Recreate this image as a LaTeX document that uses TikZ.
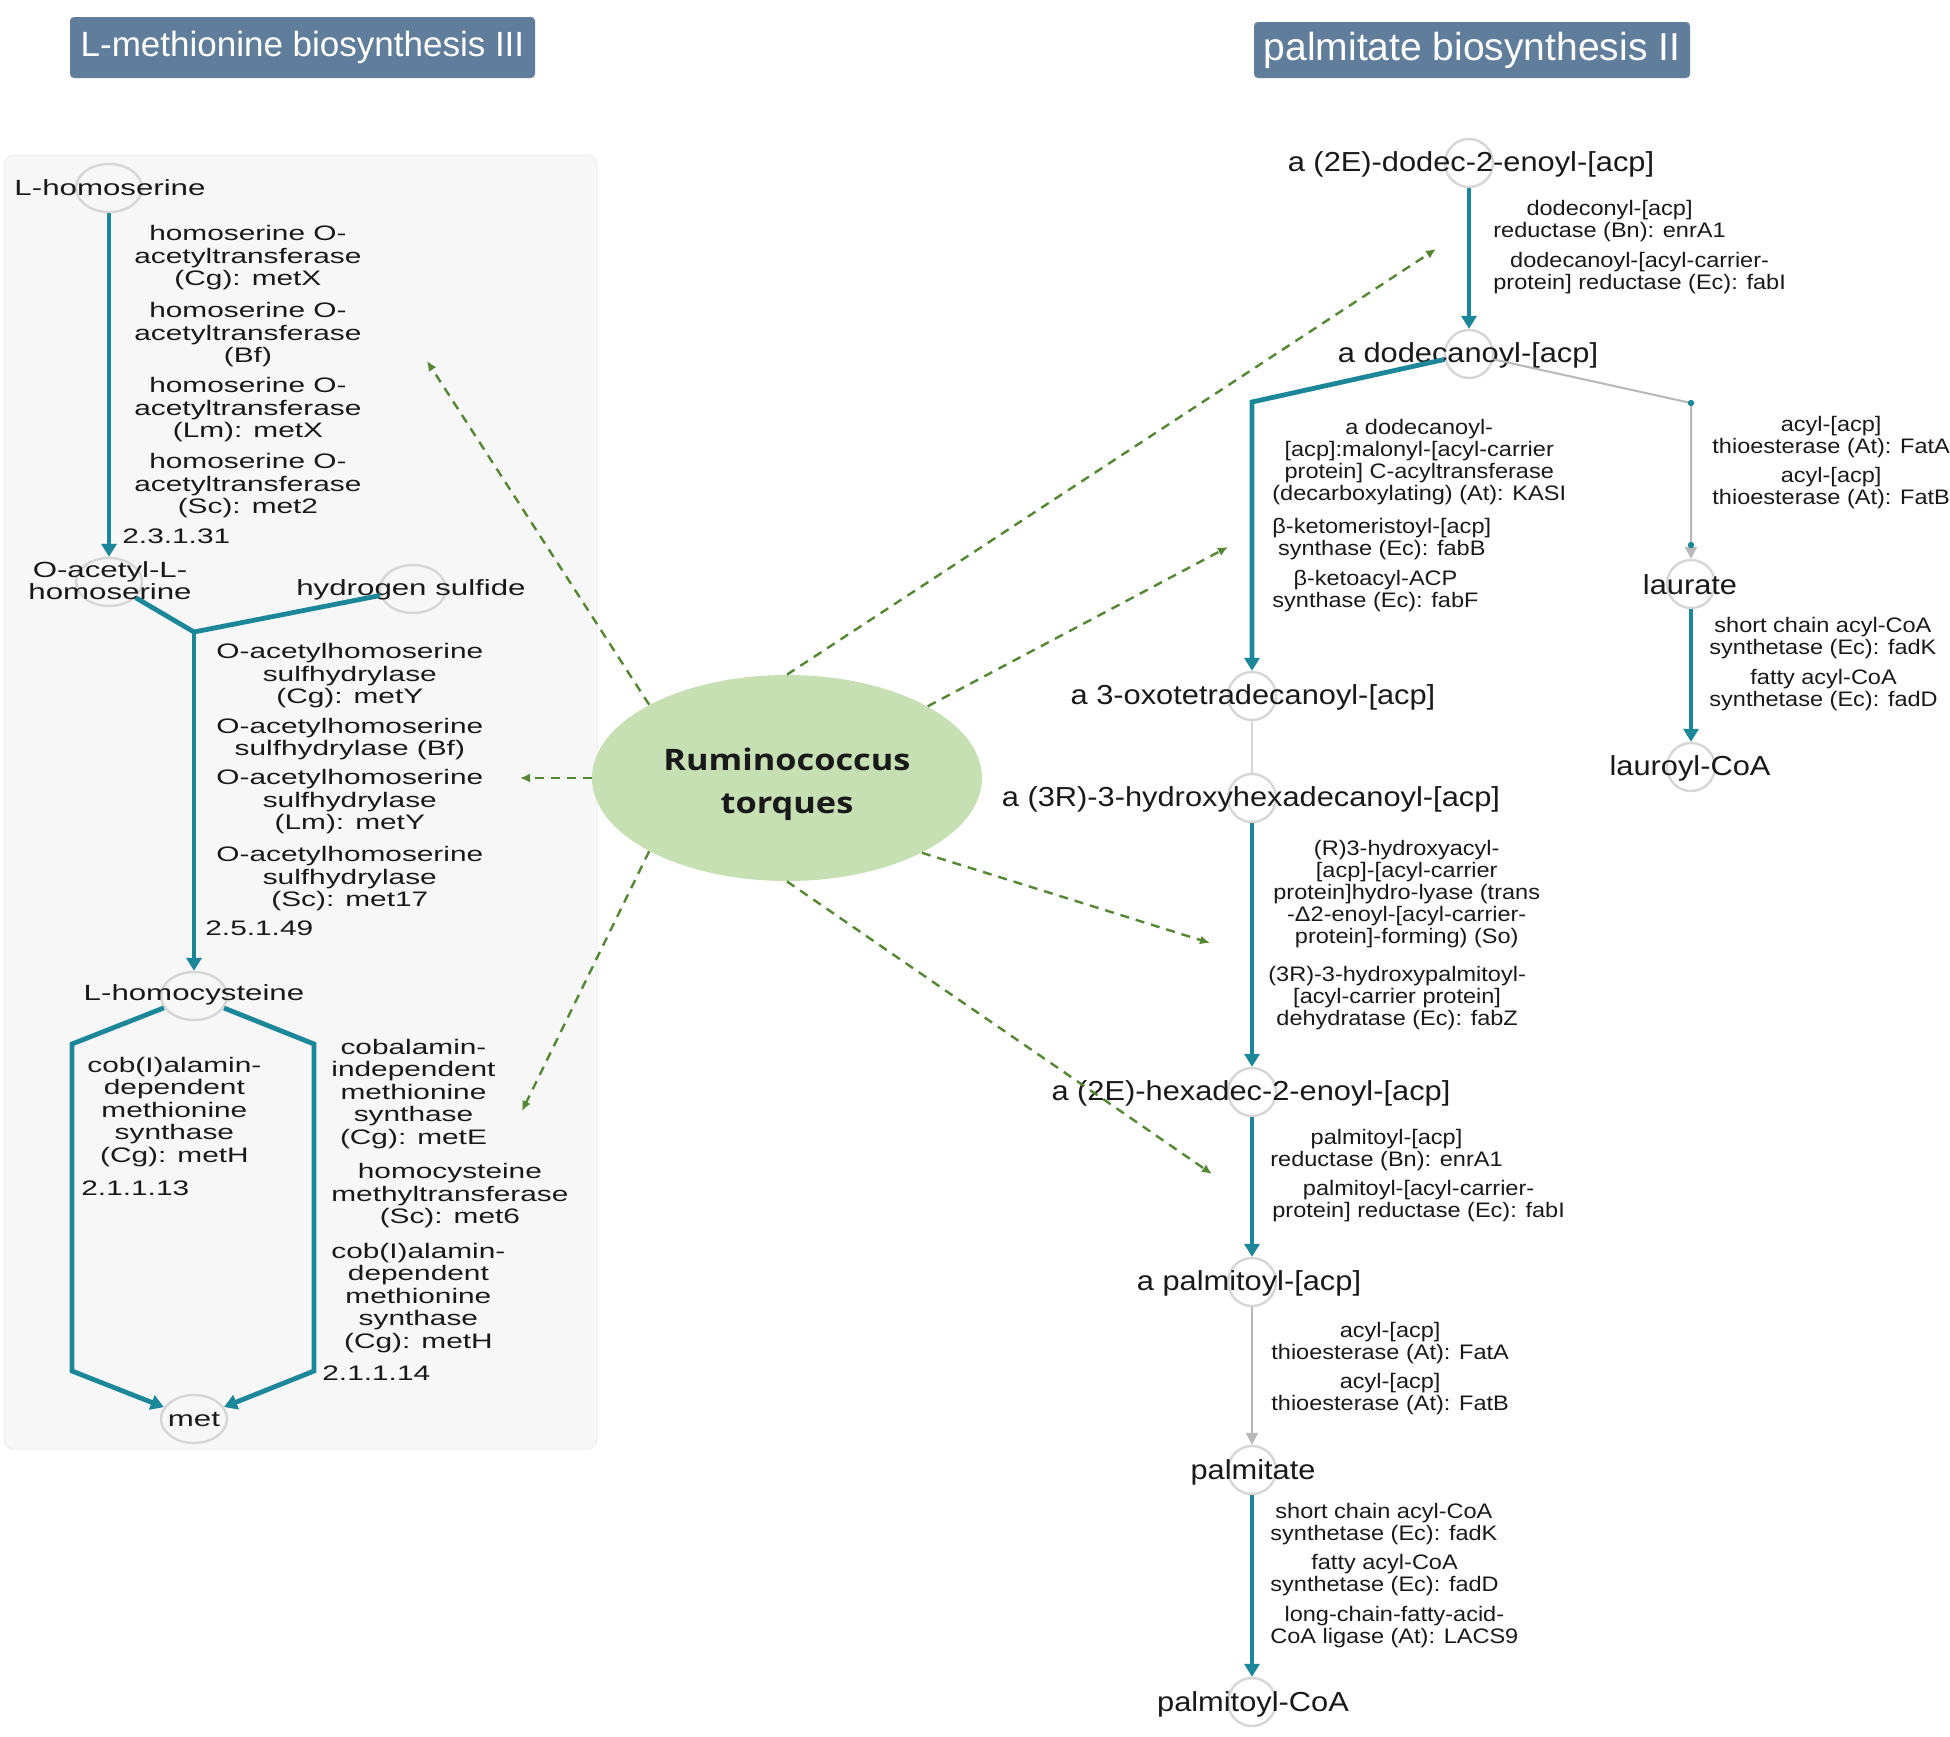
\documentclass[tikz,border=0pt]{standalone}
\usepackage{fontspec}
\setmainfont{Liberation Sans}
\newfontfamily\lfont[FakeStretch=1.42]{Liberation Sans}
\newfontfamily\rfont[FakeStretch=1.12]{Liberation Sans}
\newfontfamily\cfont[FakeStretch=1.16]{Open Sans}
\usetikzlibrary{arrows.meta,shapes.geometric}
\definecolor{pw}{RGB}{27,135,152}
\definecolor{gl}{RGB}{184,184,184}
\definecolor{lgl}{RGB}{214,214,214}
\definecolor{cir}{RGB}{214,214,214}
\definecolor{dg}{RGB}{84,134,52}
\definecolor{eg}{RGB}{198,224,180}
\definecolor{tb}{RGB}{96,126,155}
\definecolor{pbg}{RGB}{247,247,247}
\definecolor{pbd}{RGB}{238,238,238}
\definecolor{tx}{RGB}{25,25,25}
\begin{document}
\begin{tikzpicture}[x=0.5pt,y=-0.5pt,
  lc/.style={ellipse, draw=cir, line width=1.2pt, minimum width=33pt, minimum height=24pt, inner sep=0pt},
  rc/.style={circle, draw=cir, line width=1.2pt, minimum size=24pt, inner sep=0pt},
  ltxt/.style={font=\lfont\fontsize{11}{11}\selectfont, text=tx, inner sep=0pt, align=center},
  lenz/.style={font=\lfont\fontsize{10.5}{11.25}\selectfont, text=tx, inner sep=0pt, align=center, anchor=west},
  rtxt/.style={font=\rfont\fontsize{13.75}{14}\selectfont, text=tx, inner sep=0pt},
  renz/.style={font=\rfont\fontsize{10.5}{11}\selectfont, text=tx, inner sep=0pt, align=center, anchor=west},
  tbox/.style={fill=tb, text=white, rounded corners=2pt, inner sep=0pt},
  main/.style={draw=pw, line width=2.4pt},
  mainarr/.style={main, -{Triangle[width=7.5pt,length=6.5pt]}},
  side/.style={draw=gl, line width=1pt},
  sidearr/.style={side, -{Triangle[width=6pt,length=6pt]}},
  faint/.style={draw=lgl, line width=1pt},
  link/.style={draw=dg, line width=1.2pt, dash pattern=on 4.5pt off 3.5pt, -{Latex[length=5pt,width=4.5pt]}},
  org/.style={ellipse, fill=eg, minimum width=195pt, minimum height=103pt, inner sep=0pt},
  orgtxt/.style={align=center, text=black!90, inner sep=0pt,
     font=\cfont\bfseries\fontsize{14.8}{21.5}\selectfont}
]
\useasboundingbox (0,0) rectangle (1950,1736);
\fill[white] (0,0) rectangle (1950,1736);
\filldraw[fill=pbg, draw=pbd, line width=0.5pt, rounded corners=5pt] (4,155) rectangle (597,1449);

% titles
\node[tbox, minimum width=232.5pt, minimum height=30.5pt, font=\fontsize{17.5}{20}\selectfont] (ttl1) at (302.5,47.5) {L-methionine biosynthesis III};
\node[tbox, minimum width=218pt, minimum height=28pt, font=\fontsize{19.5}{22}\selectfont] (ttl2) at (1472,50) {palmitate biosynthesis II};

% compound circles (left)
\node[lc] (lhs) at (109,188) {};
\node[lc] (oah) at (109,582) {};
\node[lc] (hs) at (413,589) {};
\node[lc] (hcy) at (194,996) {};
\node[lc] (met) at (194,1419) {};

% compound circles (right)
\node[rc] (r1) at (1469,163) {};
\node[rc] (r2) at (1469,354) {};
\node[rc] (r3) at (1252,696) {};
\node[rc] (r4) at (1252,798) {};
\node[rc] (r5) at (1252,1092) {};
\node[rc] (r6) at (1252,1282) {};
\node[rc] (r7) at (1252,1470) {};
\node[rc] (r8) at (1252,1702) {};
\node[rc] (r9) at (1691,584) {};
\node[rc] (r10) at (1691,767) {};

% junctions
\coordinate (j1) at (194,632);
\coordinate (cl1) at (72,1044);
\coordinate (cl2) at (72,1371);
\coordinate (cr1) at (314,1044);
\coordinate (cr2) at (314,1371);
\coordinate (cb) at (1252,402);
\coordinate (jr) at (1691,403);
\coordinate (jr2) at (1691,545);

% compound labels (left)
\node[ltxt] (t-lhs) at (110,188) {L-homoserine};
\node[ltxt] (t-oah) at (110,581) {O-acetyl-L-\\homoserine};
\node[ltxt] (t-hs) at (411,590) {hydrogen sulfide};
\node[ltxt] (t-hcy) at (194,995) {L-homocysteine};
\node[ltxt] (t-met) at (194,1419) {met};

% enzyme labels (left)
\node[lenz] (a1) at (134,258) {homoserine O-\\acetyltransferase\\(Cg): metX};
\node[lenz] (a2) at (134,335) {homoserine O-\\acetyltransferase\\(Bf)};
\node[lenz] (a3) at (134,410) {homoserine O-\\acetyltransferase\\(Lm): metX};
\node[lenz] (a4) at (134,486) {homoserine O-\\acetyltransferase\\(Sc): met2};
\node[lenz] (ec1) at (122,536) {2.3.1.31};
\node[lenz] (b1) at (216,676) {O-acetylhomoserine\\sulfhydrylase\\(Cg): metY};
\node[lenz] (b2) at (216,739) {O-acetylhomoserine\\sulfhydrylase (Bf)};
\node[lenz] (b3) at (216,802) {O-acetylhomoserine\\sulfhydrylase\\(Lm): metY};
\node[lenz] (b4) at (216,879) {O-acetylhomoserine\\sulfhydrylase\\(Sc): met17};
\node[lenz] (ec2) at (205,928) {2.5.1.49};
\node[lenz] (c1) at (87,1112) {cob(I)alamin-\\dependent\\methionine\\synthase\\(Cg): metH};
\node[lenz] (ec3) at (81,1188) {2.1.1.13};
\node[lenz] (d1) at (331,1094) {cobalamin-\\independent\\methionine\\synthase\\(Cg): metE};
\node[lenz] (d2) at (331,1196) {homocysteine\\methyltransferase\\(Sc): met6};
\node[lenz] (d3) at (331,1298) {cob(I)alamin-\\dependent\\methionine\\synthase\\(Cg): metH};
\node[lenz] (ec4) at (322,1373) {2.1.1.14};

% compound labels (right)
\node[rtxt] (t-r1) at (1471,164) {a (2E)-dodec-2-enoyl-[acp]};
\node[rtxt] (t-r2) at (1468,355) {a dodecanoyl-[acp]};
\node[rtxt] (t-r3) at (1253,697) {a 3-oxotetradecanoyl-[acp]};
\node[rtxt] (t-r4) at (1251,799) {a (3R)-3-hydroxyhexadecanoyl-[acp]};
\node[rtxt] (t-r5) at (1251,1093) {a (2E)-hexadec-2-enoyl-[acp]};
\node[rtxt] (t-r6) at (1249,1283) {a palmitoyl-[acp]};
\node[rtxt] (t-r7) at (1253,1472) {palmitate};
\node[rtxt] (t-r8) at (1253,1704) {palmitoyl-CoA};
\node[rtxt] (t-r9) at (1690,585) {laurate};
\node[rtxt] (t-r10) at (1690,768) {lauroyl-CoA};

% enzyme labels (right)
\node[renz] (e1a) at (1493,221) {dodeconyl-[acp]\\reductase (Bn): enrA1};
\node[renz] (e1b) at (1493,273) {dodecanoyl-[acyl-carrier-\\protein] reductase (Ec): fabI};
\node[renz] (e2a) at (1272,462) {a dodecanoyl-\\{}[acp]:malonyl-[acyl-carrier\\protein] C-acyltransferase\\(decarboxylating) (At): KASI};
\node[renz] (e2b) at (1272,539) {β-ketomeristoyl-[acp]\\synthase (Ec): fabB};
\node[renz] (e2c) at (1272,591) {β-ketoacyl-ACP\\synthase (Ec): fabF};
\node[renz] (e3a) at (1712,437) {acyl-[acp]\\thioesterase (At): FatA};
\node[renz] (e3b) at (1712,488) {acyl-[acp]\\thioesterase (At): FatB};
\node[renz] (e4a) at (1709,638) {short chain acyl-CoA\\synthetase (Ec): fadK};
\node[renz] (e4b) at (1709,690) {fatty acyl-CoA\\synthetase (Ec): fadD};
\node[renz] (e5a) at (1273,894) {(R)3-hydroxyacyl-\\{}[acp]-[acyl-carrier\\protein]hydro-lyase (trans\\-Δ2-enoyl-[acyl-carrier-\\protein]-forming) (So)};
\node[renz] (e5b) at (1268,998) {(3R)-3-hydroxypalmitoyl-\\{}[acyl-carrier protein]\\dehydratase (Ec): fabZ};
\node[renz] (e6a) at (1270,1150) {palmitoyl-[acp]\\reductase (Bn): enrA1};
\node[renz] (e6b) at (1272,1201) {palmitoyl-[acyl-carrier-\\protein] reductase (Ec): fabI};
\node[renz] (e7a) at (1271,1343) {acyl-[acp]\\thioesterase (At): FatA};
\node[renz] (e7b) at (1271,1394) {acyl-[acp]\\thioesterase (At): FatB};
\node[renz] (e8a) at (1270,1524) {short chain acyl-CoA\\synthetase (Ec): fadK};
\node[renz] (e8b) at (1270,1575) {fatty acyl-CoA\\synthetase (Ec): fadD};
\node[renz] (e8c) at (1270,1627) {long-chain-fatty-acid-\\CoA ligase (At): LACS9};

% reactions (left)
\draw[mainarr] (lhs) -- (oah);
\draw[main] (oah) -- (j1) -- (hs);
\draw[mainarr] (j1) -- (hcy);
\draw[mainarr] (hcy) -- (cl1) -- (cl2) -- (met);
\draw[mainarr] (hcy) -- (cr1) -- (cr2) -- (met);

% reactions (right)
\draw[mainarr] (r1) -- (r2);
\draw[mainarr] (r2) -- (cb) -- (r3);
\draw[sidearr] (r2) -- (jr) -- (r9);
\fill[pw] (jr) circle (1.6pt);
\fill[pw] (jr2) circle (1.6pt);
\draw[faint] (r3) -- (r4);
\draw[mainarr] (r4) -- (r5);
\draw[mainarr] (r5) -- (r6);
\draw[sidearr] (r6) -- (r7);
\draw[mainarr] (r7) -- (r8);
\draw[mainarr] (r9) -- (r10);

% organism
\node[org] (rt) at (787,778) {};
\node[orgtxt] (rt-t) at (787,784) {Ruminococcus\\torques};
\coordinate (g1) at (427,361);
\coordinate (g2) at (520,778);
\coordinate (g3) at (522,1111);
\coordinate (g4) at (1436,249);
\coordinate (g5) at (1228,547);
\coordinate (g6) at (1210,943);
\coordinate (g7) at (1212,1174);
\draw[link] (rt.152.3) -- (g1);
\draw[link] (rt.180) -- (g2);
\draw[link] (rt.208.5) -- (g3);
\draw[link] (rt.90) -- (g4);
\draw[link] (rt.27.5) -- (g5);
\draw[link] (rt.331.8) -- (g6);
\draw[link] (rt.270) -- (g7);
\end{tikzpicture}
\end{document}
